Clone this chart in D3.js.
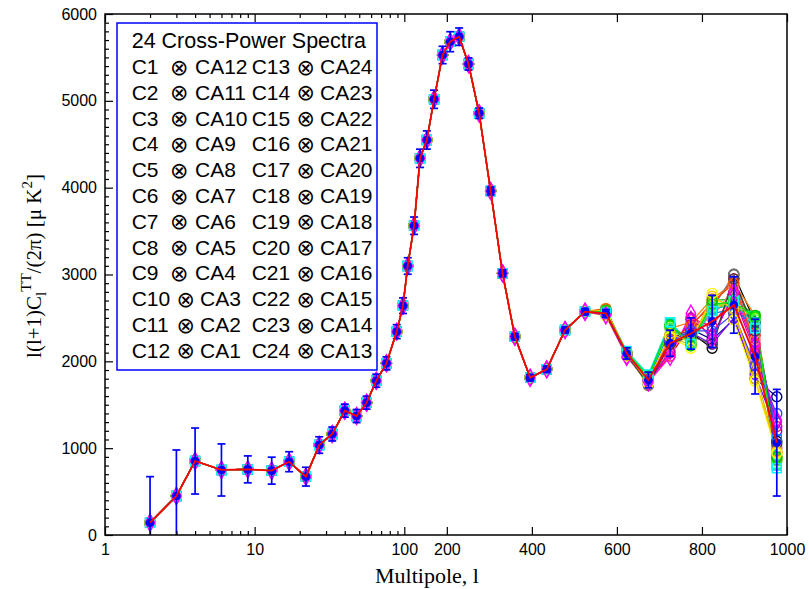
<!DOCTYPE html>
<html>
<head>
<meta charset="utf-8">
<script src="https://cdn.jsdelivr.net/npm/d3@7"></script>
<style>
  html, body { margin: 0; padding: 0; background: #fff; }
  svg { display: block; }
</style>
</head>
<body>
<svg id="chart" width="809" height="589"></svg>
<script>
// ---------------- DATA ----------------
const multipoles = [2,3,4,6,9,13,17,22,27,33,40,48,56,65,76,89,98,108,123,137,153,170,190,208,229,251,276,303,331,360,396,435,478,525,574,623,674,725,774,824,875,925,976];
const meanPower  = [142,449,852,749,756,741,844,672,1036,1163,1432,1370,1524,1777,1977,2342,2641,3098,3562,4338,4549,5018,5528,5681,5739,5424,4857,3962,3014,2284,1812,1908,2361,2572,2553,2092,1785,2208,2320,2460,2649,2054,1063];
const meanError  = [530,530,380,300,155,155,115,108,95,80,75,75,75,75,75,80,90,95,100,105,105,105,100,115,100,70,60,45,40,35,35,35,35,35,45,65,90,150,180,300,325,430,614];

// bins where the 24 cross spectra separate visibly
const spreadMultipoles = [574,623,674,725,774,824,875,925,976];
const crossSpectraHighL = [
  [2560,2070,1730,2200,2330,2150,3000,2450,1080],
  [2580,2100,1790,2060,2420,2650,2950,2300, 864],
  [2590,2110,1830,2420,2180,2700,2720,2530, 900],
  [2540,2080,1780,2250,2370,2250,2480,1800,1593],
  [2560,2120,1850,2450,2200,2580,2700,2380, 768],
  [2530,2050,1760,2050,2550,2246,2800,2200,1324],
  [2520,2060,1740,2280,2150,2783,2476,1770, 941],
  [2610,2090,1800,2380,2450,2720,2900,2530, 950],
  [2570,2100,1720,2300,2250,2600,3006,2100,1000],
  [2550,2080,1770,2240,2330,2200,2500,1850,1200],
  [2580,2110,1840,2440,2200,2620,2680,2520, 820],
  [2560,2070,1770,2100,2500,2400,2780,2150,1250],
  [2570,2100,1810,2400,2260,2650,2650,2500, 880],
  [2550,2090,1800,2350,2300,2550,2600,2400,1100],
  [2540,2080,1780,2150,2400,2500,2850,2250,1000],
  [2560,2070,1760,2300,2180,2700,2550,1900, 950],
  [2570,2110,1830,2430,2230,2600,2650,2450, 800],
  [2530,2060,1760,2120,2480,2300,2750,2100,1300],
  [2560,2070,1740,2200,2290,2200,2950,2350,1050],
  [2600,2100,1790,2250,2400,2680,2900,2200, 900],
  [2580,2110,1820,2380,2200,2640,2700,2480, 850],
  [2550,2080,1780,2230,2350,2350,2550,1950,1400],
  [2590,2090,1760,2320,2220,2750,2600,1800, 960],
  [2570,2100,1820,2410,2210,2660,2680,2510, 880]
];
const seriesColors = ["#000000","#ff0000","#00c000","#000080","#00ffff","#ff00ff","#ffff00","#ff8000",
                      "#808080","#8000ff","#00ff80","#ff0080","#80ff00","#0080ff","#ff8080","#c0c000",
                      "#00c0c0","#c000c0","#404040","#ff4000","#40ff40","#4040ff","#ffc000","#00e000"];
const seriesSymbols = ["circle","circle","circle","circle","square","diamond","circle","circle",
                       "circle","circle","square","circle","circle","square","circle","circle",
                       "square","diamond","circle","circle","circle","circle","circle","circle"];
// order in which marker layers are stacked (last on top)
const markerDrawOrder = [0,1,3,7,8,9,10,11,12,13,14,15,16,17,18,19,20,21,22,23,2,6,4,5];

const detectors = ["C1","C2","C3","C4","C5","C6","C7","C8","C9","C10","C11","C12",
                   "C13","C14","C15","C16","C17","C18","C19","C20","C21","C22","C23","C24"];
const partners  = ["CA12","CA11","CA10","CA9","CA8","CA7","CA6","CA5","CA4","CA3","CA2","CA1",
                   "CA24","CA23","CA22","CA21","CA20","CA19","CA18","CA17","CA16","CA15","CA14","CA13"];
const legendTitle = "24 Cross-Power Spectra";

const yTicksMajor = [0,1000,2000,3000,4000,5000,6000];
const xTicksLog = [1,10,100];
const xTicksLin = [200,400,600,800,1000];
const xMinorLog = [2,3,4,5,6,7,8,9,20,30,40,50,60,70,80,90];

// ---------------- LAYOUT ----------------
const L = 105, R = 787, T = 14, B = 535, XBREAK = 404.3;
const svg = d3.select("#chart");

const xLog = d3.scaleLog().domain([1,100]).range([L, XBREAK]);
const xLin = d3.scaleLinear().domain([100,1000]).range([XBREAK, R]);
const x = l => (l <= 100 ? xLog(l) : xLin(l));
const y = d3.scaleLinear().domain([0,6000]).range([B, T]);

svg.append("defs").append("clipPath").attr("id","plotclip")
  .append("rect").attr("x",L).attr("y",T).attr("width",R-L).attr("height",B-T);

const plot = svg.append("g").attr("clip-path","url(#plotclip)");

// build full series
const series = crossSpectraHighL.map((hi, s) => multipoles.map((l, i) => {
  const j = spreadMultipoles.indexOf(l);
  return { l, v: j >= 0 ? hi[j] : meanPower[i] };
}));

const line = d3.line().x(d => x(d.l)).y(d => y(d.v));

// series lines
series.forEach((pts, s) => {
  plot.append("path").datum(pts)
    .attr("d", line).attr("fill","none")
    .attr("stroke", seriesColors[s]).attr("stroke-width", 1.2);
});
// series markers
const symMap = { circle: d3.symbolCircle, square: d3.symbolSquare, diamond: d3.symbolDiamond };
markerDrawOrder.forEach(s => {
  const pts = series[s];
  const sym = d3.symbol().type(symMap[seriesSymbols[s]]).size(seriesSymbols[s]==="circle" ? 78 : 80);
  plot.append("g").selectAll("path").data(pts).join("path")
    .attr("transform", d => `translate(${x(d.l)},${y(d.v)})`)
    .attr("d", sym).attr("fill","none")
    .attr("stroke", seriesColors[s]).attr("stroke-width", 1.4);
});

// mean with error bars
const meanPts = multipoles.map((l,i) => ({ l, v: meanPower[i], e: meanError[i] }));
const eb = plot.append("g").attr("stroke","#0000ff").attr("stroke-width",1.7);
meanPts.forEach(d => {
  const cx = x(d.l);
  eb.append("line").attr("x1",cx).attr("x2",cx).attr("y1",y(d.v-d.e)).attr("y2",y(d.v+d.e));
  eb.append("line").attr("x1",cx-4).attr("x2",cx+4).attr("y1",y(d.v-d.e)).attr("y2",y(d.v-d.e));
  eb.append("line").attr("x1",cx-4).attr("x2",cx+4).attr("y1",y(d.v+d.e)).attr("y2",y(d.v+d.e));
});
plot.append("g").selectAll("circle").data(meanPts).join("circle")
  .attr("cx", d => x(d.l)).attr("cy", d => y(d.v)).attr("r", 4.3).attr("fill","#0000ff");

// red line
plot.append("path").datum(meanPts)
  .attr("d", line).attr("fill","none").attr("stroke","#ff0000").attr("stroke-width",1.8);

// ---------------- AXES ----------------
const fontSans = "'Liberation Sans', Arial, Helvetica, sans-serif";
const fontSerif = "'Liberation Serif', 'Times New Roman', serif";

function styleAxis(g) {
  g.select(".domain").remove();
  g.selectAll("line").attr("stroke","#000").attr("stroke-width",1.2);
  g.selectAll("text").attr("font-family", fontSans).attr("font-size", 16).attr("fill","#000");
}

// bottom
svg.append("g").attr("transform",`translate(0,${B})`)
  .call(d3.axisBottom(xLog).tickValues(xTicksLog).tickFormat(d3.format("d")).tickSize(-8).tickSizeOuter(0).tickPadding(9)).call(styleAxis);
svg.append("g").attr("transform",`translate(0,${B})`)
  .call(d3.axisBottom(xLin).tickValues(xTicksLin).tickFormat(d3.format("d")).tickSize(-8).tickSizeOuter(0).tickPadding(9)).call(styleAxis);
svg.append("g").attr("transform",`translate(0,${B})`)
  .call(d3.axisBottom(xLog).tickValues(xMinorLog).tickFormat("").tickSize(-4).tickSizeOuter(0)).call(styleAxis);
// top
svg.append("g").attr("transform",`translate(0,${T})`)
  .call(d3.axisTop(xLog).tickValues(xTicksLog).tickFormat("").tickSize(-8).tickSizeOuter(0)).call(styleAxis);
svg.append("g").attr("transform",`translate(0,${T})`)
  .call(d3.axisTop(xLin).tickValues(xTicksLin).tickFormat("").tickSize(-8).tickSizeOuter(0)).call(styleAxis);
svg.append("g").attr("transform",`translate(0,${T})`)
  .call(d3.axisTop(xLog).tickValues(xMinorLog).tickFormat("").tickSize(-4).tickSizeOuter(0)).call(styleAxis);
// left
svg.append("g").attr("transform",`translate(${L},0)`)
  .call(d3.axisLeft(y).tickValues(yTicksMajor).tickFormat(d3.format("d")).tickSize(-8).tickSizeOuter(0).tickPadding(8)).call(styleAxis);
svg.append("g").attr("transform",`translate(${L},0)`)
  .call(d3.axisLeft(y).tickValues(d3.range(0,6001,100).filter(v => v % 1000 !== 0)).tickFormat("").tickSize(-4).tickSizeOuter(0)).call(styleAxis);

// frame
svg.append("rect").attr("x",L).attr("y",T).attr("width",R-L).attr("height",B-T)
  .attr("fill","none").attr("stroke","#000").attr("stroke-width",1.5);

// axis titles
svg.append("text").attr("x", 427).attr("y", 583).attr("text-anchor","middle")
  .attr("font-family", fontSerif).attr("font-size", 22).text("Multipole, l");

const yl = svg.append("text").attr("transform","translate(41,266) rotate(-90)").attr("text-anchor","middle")
  .attr("font-family", fontSerif).attr("font-size", 21);
yl.append("tspan").text("l(l+1)C");
yl.append("tspan").attr("dy",5).attr("font-size",15).text("l");
yl.append("tspan").attr("dy",-15).attr("font-size",15).text("TT");
yl.append("tspan").attr("dy",10).text("/(2π) [μ K");
yl.append("tspan").attr("dy",-9).attr("font-size",15).text("2");
yl.append("tspan").attr("dy",9).text("]");

// ---------------- LEGEND ----------------
const lg = svg.append("g");
lg.append("rect").attr("x",117).attr("y",23).attr("width",260).attr("height",347)
  .attr("fill","#fff").attr("stroke","#0000ff").attr("stroke-width",1.5);
lg.append("text").attr("x",131.7).attr("y",47.5).attr("font-family",fontSans).attr("font-size",21.5).text(legendTitle);
for (let i = 0; i < 12; i++) {
  const by = 74 + i * 25.8;
  const twoDigit = detectors[i].length > 2;
  // column 1
  lg.append("text").attr("x",131.7).attr("y",by).attr("font-family",fontSans).attr("font-size",21).text(detectors[i]);
  lg.append("text").attr("x", twoDigit ? 185.8 : 179.2).attr("y",by+0.5).attr("text-anchor","middle")
    .attr("font-family","'DejaVu Sans', sans-serif").attr("font-size",22).text("⊗");
  lg.append("text").attr("x", twoDigit ? 200 : 195).attr("y",by).attr("font-family",fontSans).attr("font-size",21).text(partners[i]);
  // column 2
  lg.append("text").attr("x",251.7).attr("y",by).attr("font-family",fontSans).attr("font-size",21).text(detectors[i+12]);
  lg.append("text").attr("x",305.8).attr("y",by+0.5).attr("text-anchor","middle")
    .attr("font-family","'DejaVu Sans', sans-serif").attr("font-size",22).text("⊗");
  lg.append("text").attr("x",320).attr("y",by).attr("font-family",fontSans).attr("font-size",21).text(partners[i+12]);
}
</script>
</body>
</html>
